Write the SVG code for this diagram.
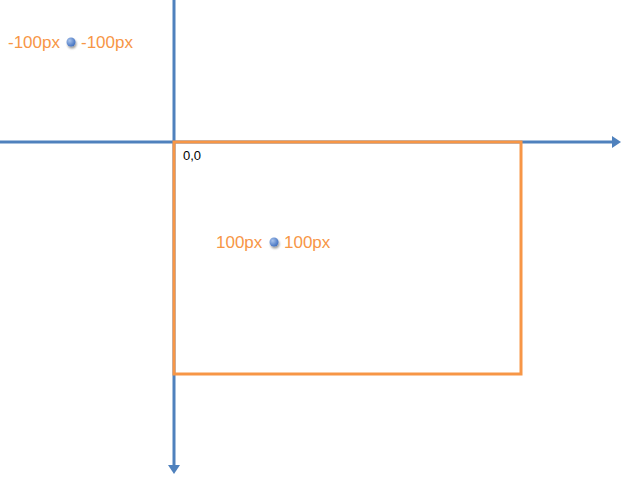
<svg xmlns="http://www.w3.org/2000/svg" width="624" height="478" viewBox="0 0 624 478">
<defs>
<marker id="arr" markerWidth="4" markerHeight="4" refX="1" refY="2" orient="auto" markerUnits="strokeWidth">
<path d="M0,0 L3,2 L0,4 Z" fill="#4f81bd"/>
</marker>
<radialGradient id="dot" cx="0.35" cy="0.35" r="0.7">
<stop offset="0" stop-color="#a9c4ec"/>
<stop offset="1" stop-color="#3f6fc0"/>
</radialGradient>
<filter id="sh" x="-50%" y="-50%" width="200%" height="200%">
<feGaussianBlur in="SourceAlpha" stdDeviation="0.8"/>
<feOffset dx="0.5" dy="1.5"/>
<feComponentTransfer><feFuncA type="linear" slope="0.4"/></feComponentTransfer>
<feMerge><feMergeNode/><feMergeNode in="SourceGraphic"/></feMerge>
</filter>
</defs>
<style>
.axis{stroke:#4f81bd;stroke-width:3;fill:none}
.box{stroke:#f79646;stroke-width:3;fill:none}
.lbl{font-family:"Liberation Sans",Arial,sans-serif;font-size:17px;fill:#f79646}
.org{font-family:"Liberation Sans",Arial,sans-serif;font-size:13px;fill:#000}
</style>
<g id="connectors">
<line class="axis" x1="0" y1="142" x2="615" y2="142" marker-end="url(#arr)"/>
<line class="axis" x1="174" y1="0" x2="174" y2="468" marker-end="url(#arr)"/>
</g>
<g id="viewport">
<rect class="box" x="174" y="142" width="347" height="232"/>
</g>
<g id="origin">
<text class="org" x="183" y="160">0,0</text>
</g>
<g id="point-neg">
<text class="lbl" x="8" y="48">-100px</text>
<circle cx="71" cy="42" r="4.5" fill="url(#dot)" filter="url(#sh)"/>
<text class="lbl" x="81" y="48">-100px</text>
</g>
<g id="point-pos">
<text class="lbl" x="216" y="248">100px</text>
<circle cx="274" cy="242" r="4.5" fill="url(#dot)" filter="url(#sh)"/>
<text class="lbl" x="284" y="248">100px</text>
</g>
</svg>
